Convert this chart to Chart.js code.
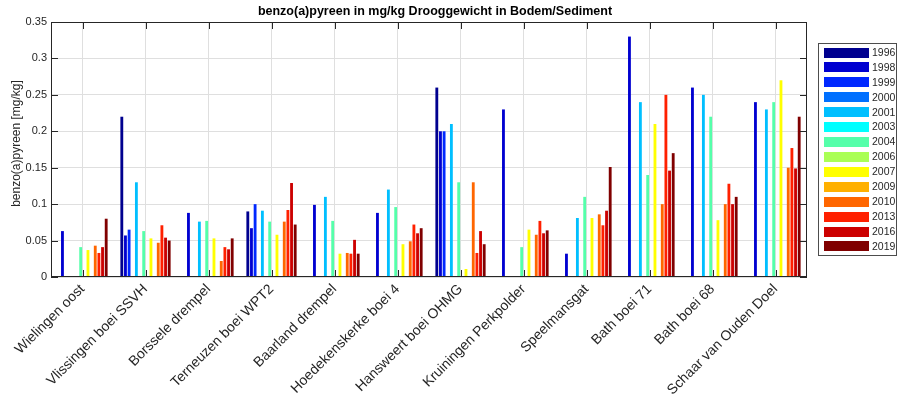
<!DOCTYPE html>
<html>
<head>
<meta charset="utf-8">
<script src="https://cdn.jsdelivr.net/npm/chart.js@4.4.1/dist/chart.umd.min.js"></script>
<style>
  html, body { margin: 0; padding: 0; background: #ffffff; }
  #wrap { width: 899px; height: 403px; position: relative; }
  canvas { display: block; }
</style>
</head>
<body>
<div id="wrap"><canvas id="c" width="899" height="403"></canvas></div>
<script>
const categories = ['Wielingen oost', 'Vlissingen boei SSVH', 'Borssele drempel', 'Terneuzen boei WPT2',
  'Baarland drempel', 'Hoedekenskerke boei 4', 'Hansweert boei OHMG', 'Kruiningen Perkpolder',
  'Speelmansgat', 'Bath boei 71', 'Bath boei 68', 'Schaar van Ouden Doel'];

const years = ['1996', '1998', '1999', '2000', '2001', '2003', '2004', '2006', '2007', '2009', '2010', '2013', '2016', '2019'];

const v1996 = [null, 0.22, null, 0.09, null, null, 0.26, null, null, null, null, null];
const v1998 = [0.063, 0.057, 0.088, 0.067, 0.099, 0.088, 0.20, 0.23, 0.032, 0.33, 0.26, 0.24];
const v1999 = [null, 0.065, null, 0.10, null, null, 0.20, null, null, null, null, null];
const v2000 = [null, null, null, null, null, null, null, null, null, null, null, null];
const v2001 = [null, 0.13, 0.076, 0.091, 0.11, 0.12, 0.21, null, 0.081, 0.24, 0.25, 0.23];
const v2003 = [null, null, null, null, null, null, null, null, null, null, null, null];
const v2004 = [0.041, 0.063, 0.077, 0.076, 0.077, 0.096, 0.13, 0.041, 0.11, 0.14, 0.22, 0.24];
const v2006 = [null, null, null, null, null, null, null, null, null, null, null, null];
const v2007 = [0.037, 0.053, 0.053, 0.058, 0.032, 0.045, 0.011, 0.065, 0.081, 0.21, 0.078, 0.27];
const v2009 = [null, null, null, null, null, null, null, null, null, null, null, null];
const v2010 = [0.043, 0.047, 0.022, 0.076, 0.033, 0.049, 0.13, 0.058, 0.086, 0.10, 0.10, 0.15];
const v2013 = [0.033, 0.071, 0.041, 0.092, 0.032, 0.072, 0.033, 0.077, 0.071, 0.25, 0.128, 0.177];
const v2016 = [0.041, 0.054, 0.038, 0.129, 0.051, 0.060, 0.063, 0.060, 0.091, 0.146, 0.10, 0.149];
const v2019 = [0.080, 0.050, 0.053, 0.072, 0.032, 0.067, 0.045, 0.064, 0.151, 0.17, 0.11, 0.22];

const seriesValues = [v1996, v1998, v1999, v2000, v2001, v2003, v2004, v2006, v2007, v2009, v2010, v2013, v2016, v2019];

const seriesColors = ['#00008F', '#0000D0', '#0028FF', '#0070FF', '#00BFFF', '#00FFFF', '#55FFAA',
  '#AAFF55', '#FFFF00', '#FFB000', '#FF6600', '#FF2000', '#CC0000', '#800000'];

const yTickLabels = ['0', '0.05', '0.1', '0.15', '0.2', '0.25', '0.3', '0.35'];
const yTickValues = [0, 0.05, 0.1, 0.15, 0.2, 0.25, 0.3, 0.35];

const chartTitle = 'benzo(a)pyreen in mg/kg Drooggewicht in Bodem/Sediment';
const yAxisTitle = 'benzo(a)pyreen [mg/kg]';

const FONT = '"Liberation Sans", Arial, Helvetica, sans-serif';
const AXIS_COLOR = '#262626';

const datasets = years.map((yr, i) => ({
  label: yr,
  data: seriesValues[i],
  backgroundColor: seriesColors[i],
  borderWidth: 0,
  categoryPercentage: 0.81,
  barPercentage: 0.78
}));

const decor = {
  id: 'decor',
  afterDraw(chart) {
    const { ctx, chartArea: ca, scales } = chart;
    const x = scales.x, y = scales.y;
    ctx.save();
    ctx.strokeStyle = AXIS_COLOR;
    ctx.lineWidth = 1;
    // inside ticks on x (bottom & top) and y (left & right)
    ctx.beginPath();
    for (let i = 0; i < categories.length; i++) {
      const px = Math.round(x.getPixelForValue(i)) + 0.5;
      ctx.moveTo(px, ca.bottom); ctx.lineTo(px, ca.bottom - 7);
      ctx.moveTo(px, ca.top); ctx.lineTo(px, ca.top + 7);
    }
    for (const v of yTickValues) {
      const py = Math.round(y.getPixelForValue(v)) + 0.5;
      ctx.moveTo(ca.left, py); ctx.lineTo(ca.left + 7, py);
      ctx.moveTo(ca.right, py); ctx.lineTo(ca.right - 7, py);
    }
    ctx.stroke();
    // axes box
    ctx.strokeRect(Math.round(ca.left) + 0.5, Math.round(ca.top) + 0.5,
      Math.round(ca.right - ca.left) - 1, Math.round(ca.bottom - ca.top) - 1);

    // title
    ctx.fillStyle = '#000000';
    ctx.font = 'bold 12.5px ' + FONT;
    ctx.textAlign = 'center';
    ctx.textBaseline = 'middle';
    ctx.fillText(chartTitle, (ca.left + ca.right) / 2 + 6, 12);

    // y axis title
    ctx.save();
    ctx.translate(17, (ca.top + ca.bottom) / 2 - 6);
    ctx.rotate(-Math.PI / 2);
    ctx.fillStyle = AXIS_COLOR;
    ctx.font = '12px ' + FONT;
    ctx.textAlign = 'center';
    ctx.textBaseline = 'middle';
    ctx.fillText(yAxisTitle, 0, 0);
    ctx.restore();

    // legend
    const lx = 818.5, ly = 43.5, lw = 78, lh = 212;
    ctx.fillStyle = '#ffffff';
    ctx.fillRect(lx, ly, lw, lh);
    ctx.strokeStyle = '#4d4d4d';
    ctx.strokeRect(lx, ly, lw, lh);
    ctx.font = '10.5px ' + FONT;
    ctx.textAlign = 'left';
    ctx.textBaseline = 'middle';
    chart.data.datasets.forEach((ds, i) => {
      const cy = 52.5 + i * 14.92;
      ctx.fillStyle = ds.backgroundColor;
      ctx.fillRect(824, Math.round(cy - 5), 45, 10);
      ctx.fillStyle = AXIS_COLOR;
      ctx.fillText(ds.label, 872, cy + 0.5);
    });
    ctx.restore();
  }
};

new Chart(document.getElementById('c'), {
  type: 'bar',
  data: { labels: categories, datasets },
  options: {
    responsive: false,
    animation: false,
    devicePixelRatio: 1,
    layout: { padding: { left: 0, top: 22, right: 92, bottom: 0 } },
    plugins: {
      legend: { display: false },
      title: { display: false },
      tooltip: { enabled: false }
    },
    scales: {
      x: {
        offset: true,
        grid: { display: true, offset: false, color: '#dfdfdf', drawTicks: false },
        border: { display: false },
        ticks: {
          autoSkip: false,
          maxRotation: 45,
          minRotation: 45,
          padding: 4,
          color: AXIS_COLOR,
          font: { family: FONT, size: 14 }
        },
        afterFit(scale) { scale.height = 126; }
      },
      y: {
        min: 0,
        max: 0.35,
        grid: { color: '#dfdfdf', drawTicks: false },
        border: { display: false },
        ticks: {
          stepSize: 0.05,
          padding: 4,
          color: AXIS_COLOR,
          font: { family: FONT, size: 11 },
          callback: (v, i) => yTickLabels[i]
        },
        afterFit(scale) { scale.width = 51; }
      }
    }
  },
  plugins: [decor]
});
</script>
</body>
</html>
